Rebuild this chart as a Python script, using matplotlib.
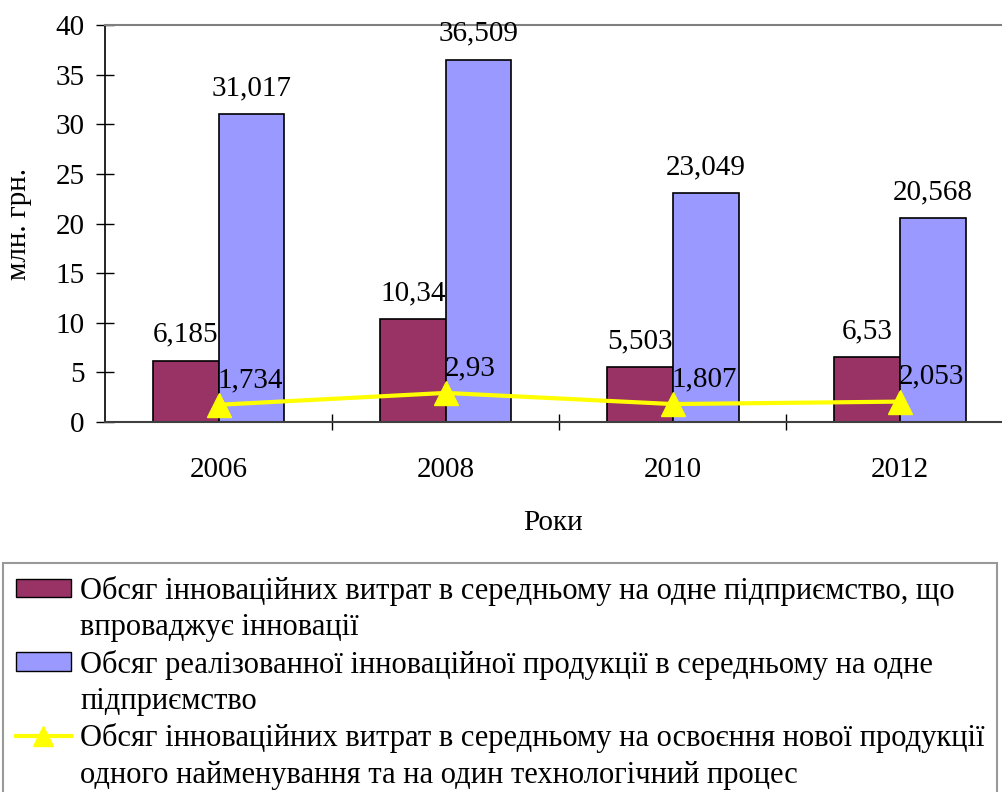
import numpy as np
import matplotlib.pyplot as plt
from matplotlib.patches import Patch
from matplotlib.lines import Line2D

years = ["2006", "2008", "2010", "2012"]
costs = [6.185, 10.34, 5.503, 6.53]
sales = [31.017, 36.509, 23.049, 20.568]
per_product = [1.734, 2.93, 1.807, 2.053]
costs_lbl = ["6,185", "10,34", "5,503", "6,53"]
sales_lbl = ["31,017", "36,509", "23,049", "20,568"]
per_product_lbl = ["1,734", "2,93", "1,807", "2,053"]
legend_labels = [
    ["Обсяг інноваційних витрат в середньому на одне підприємство, що",
     "впроваджує інновації"],
    ["Обсяг реалізованної інноваційної продукції в середньому на одне",
     "підприємство"],
    ["Обсяг інноваційних витрат в середньому на освоєння нової продукції",
     "одного найменування та на один технологічний процес"],
]

plt.rcParams["font.family"] = ["Liberation Serif", "DejaVu Serif"]
FS = 21
FS_LEG = 22

fig = plt.figure(figsize=(10.02, 7.92), dpi=100)
ax = fig.add_axes([105 / 1002, 1 - 422 / 792, 1 - 105 / 1002, (422 - 25) / 792])

x = np.arange(len(years))
w = 0.29
ax.bar(x - w / 2, costs, w, color="#993366", edgecolor="black", linewidth=1.2, zorder=2)
ax.bar(x + w / 2, sales, w, color="#9999ff", edgecolor="black", linewidth=1.2, zorder=2)
ax.plot(x, per_product, color="#ffff00", linewidth=3, marker="^", markersize=17, zorder=3)

for xi, v, s in zip(x, costs, costs_lbl):
    ax.text(xi - w / 2, v + 2.6, s, ha="center", va="center", fontsize=FS)
for xi, v, s in zip(x, sales, sales_lbl):
    ax.text(xi + w / 2, v + 2.6, s, ha="center", va="center", fontsize=FS)
for xi, v, s in zip(x, per_product, per_product_lbl):
    ax.text(xi - 0.005, v + 2.5, s, ha="left", va="center", fontsize=FS, zorder=4)

ax.set_xlim(-0.5, 3.45)
ax.set_ylim(0, 40)
ax.set_yticks(np.arange(0, 41, 5))
ax.set_xticks(x)
ax.set_xticklabels(years)
ax.set_xticks(x[:-1] + 0.5, minor=True)
ax.tick_params(axis="x", which="major", length=0, pad=25, labelsize=FS)
ax.tick_params(axis="x", which="minor", direction="inout", length=12, width=1)
ax.tick_params(axis="y", direction="inout", length=13, width=1, pad=8, labelsize=FS)

ax.spines["right"].set_visible(False)
ax.spines["top"].set_color("#808080")
ax.spines["top"].set_linewidth(1.5)
ax.spines["bottom"].set_color("#404040")
ax.spines["bottom"].set_linewidth(1.5)
ax.spines["left"].set_linewidth(1.2)

ax.set_xlabel("Роки", fontsize=FS, labelpad=20)
ax.set_ylabel("млн. грн.", fontsize=FS, labelpad=17)

# each entry is two rows; the second row gets an empty handle
series_handles = [
    Patch(facecolor="#993366", edgecolor="black"),
    Patch(facecolor="#9999ff", edgecolor="black"),
    Line2D([], [], color="#ffff00", linewidth=3, marker="^", markersize=15),
]
handles, labels = [], []
for h, lines in zip(series_handles, legend_labels):
    handles += [h, Line2D([], [], color="none")]
    labels += lines
leg = fig.legend(handles, labels, loc="upper left", bbox_to_anchor=(3 / 1002, 1 - 563 / 792),
                 fontsize=FS_LEG, frameon=True, fancybox=False, edgecolor="#808080",
                 handlelength=1.8, handleheight=0.55, handletextpad=0.3, labelspacing=0.24,
                 borderpad=0.42, borderaxespad=0)
leg.get_frame().set_linewidth(1.5)

fig.savefig("out.png", dpi=100)
